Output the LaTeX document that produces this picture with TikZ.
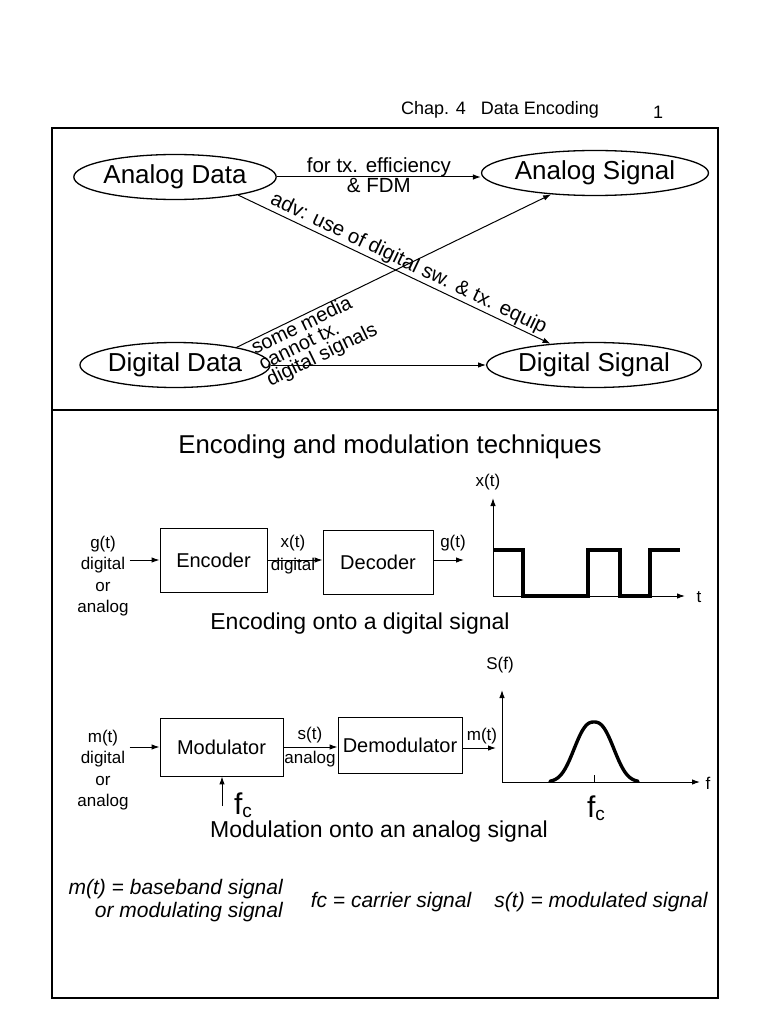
\documentclass[tikz,border=0pt]{standalone}
\usepackage{fontspec}
\setmainfont{Liberation Sans}
\usetikzlibrary{arrows.meta,shapes.geometric,positioning}

\begin{document}
\begin{tikzpicture}[x=1pt,y=-1pt,
	arr/.style={-{Latex[length=8pt,width=5.5pt]},line width=1pt},
	oval/.style={ellipse,draw,line width=1.3pt,minimum width=186pt,minimum height=45pt,inner sep=0pt,font=\fontsize{26}{30}\selectfont},
	block/.style={draw,line width=0.9pt,inner sep=0pt,font=\fontsize{20}{24}\selectfont},
	lbl/.style={font=\fontsize{17}{21.5}\selectfont,align=center,inner sep=1pt},
	note/.style={font=\fontsize{20.5}{18}\selectfont,inner sep=1pt},
	title/.style={font=\fontsize{23}{28}\selectfont,inner sep=0pt},
	legend/.style={font=\fontsize{21}{23}\selectfont\itshape,inner sep=0pt},
	wave/.style={line width=3.6pt,line join=miter},
	fclbl/.style={inner sep=0pt,font=\fontsize{30}{30}\selectfont}]
	% Page and frames:
	\fill[white] (0,0) rectangle (768,1024);
	\useasboundingbox (0,0) rectangle (768,1024);
	\draw[line width=1.3pt] (52,128) rectangle (718,998);
	\draw[line width=1.3pt] (52,410) -- (718,410);
	\node[font=\fontsize{18}{20}\selectfont] (chap) at (500,110) {Chap. 4\hspace{15pt}Data Encoding};
	\node[font=\fontsize{18}{20}\selectfont] (page) at (658,112) {1};

	% Data and signals:
	\node[oval] (AD) at (175,177) {Analog Data};
	\node[oval] (AS) at (595,173) {Analog Signal};
	\node[oval] (DD) at (175,365) {Digital Data};
	\node[oval] (DS) at (594,365) {Digital Signal};
	\draw[arr] (AD.east) -- (AS.west |- AD.east)
		node[note,midway,above=-1pt] {for tx. efficiency}
		node[note,midway,below=0pt] {\& FDM};
	\draw[arr] (AD.-16) -- (DS.154)
		node[note,sloped,above,pos=0.53] {adv: use of digital sw. \& tx. equip};
	\draw[arr] (DD.16) -- (AS.206)
		node[note,sloped,below=-1pt,pos=0.21,align=left,font=\fontsize{20}{17.5}\selectfont] {some media\\cannot tx.\\digital signals};
	\draw[arr] (DD.east) -- (DS.west);

	% Encoding onto a digital signal:
	\node[title,font=\fontsize{25.8}{28}\selectfont] (head) at (390,447) {Encoding and modulation techniques};
	\node[lbl] (gin) at (103,576) {g(t)\\digital\\or\\analog};
	\node[block,minimum width=107pt,minimum height=64pt] (enc) at (213.5,560) {Encoder};
	\node[block,minimum width=110pt,minimum height=64pt] (dec) at (378,562) {Decoder};
	\coordinate (gout) at (464,560);
	\draw[arr] (gin.east |- enc.west) -- (enc.west);
	\draw[arr] (enc.east) -- (dec.west |- enc.east);
	\draw[arr] (dec.east |- gout) -- (gout);
	\node[lbl] (xt) at (293,543) {x(t)};
	\node[lbl] (xdig) at (293,566) {digital};
	\node[lbl] (gt) at (453,543) {g(t)};
	\coordinate (o1) at (493,596);
	\draw[arr] (o1) -- ++(0,-98);
	\draw[arr] (o1) -- ++(192,0);
	\node[lbl] (xax) at (488,482) {x(t)};
	\node[lbl] (tax) at (699,597) {t};
	\draw[wave] (493,550) -| (523,596) -| (588,550) -| (620,596) -| (650,550) -- (680,550);
	\node[title] (enctitle) at (360,624) {Encoding onto a digital signal};

	% Modulation onto an analog signal:
	\node[lbl] (min) at (103,770) {m(t)\\digital\\or\\analog};
	\node[block,minimum width=123pt,minimum height=58pt] (mod) at (221.5,747) {Modulator};
	\node[block,minimum width=124pt,minimum height=56pt] (demod) at (400,745) {Demodulator};
	\coordinate (mout) at (496,748);
	\coordinate (fcin) at (222,806);
	\draw[arr] (min.east |- mod.west) -- (mod.west);
	\draw[arr] (mod.east) -- (demod.west |- mod.east);
	\draw[arr] (demod.east |- mout) -- (mout);
	\draw[arr] (fcin) -- (fcin |- mod.south);
	\node[lbl] (st) at (310,735) {s(t)};
	\node[lbl] (sana) at (310,759) {analog};
	\node[lbl] (mt) at (482,736) {m(t)};
	\node[fclbl] (fc1) at (243,805) {f\raisebox{-3pt}{\fontsize{19}{19}\selectfont c}};
	\coordinate (o2) at (502,782);
	\draw[arr] (o2) -- ++(0,-92);
	\draw[arr] (o2) -- ++(198,0);
	\node[lbl] (sax) at (500,665) {S(f)};
	\node[lbl] (fax) at (708,783) {f};
	\draw[wave,line width=3.4pt,line cap=round] plot[domain=-44:44,samples=89,smooth] ({594+\x},{782-60*exp(-1*(abs(\x)/24.5)^2.5)});
	\draw[line width=0.8pt] (594,775) -- (594,782);
	\node[fclbl] (fc2) at (596,808) {f\raisebox{-3pt}{\fontsize{19}{19}\selectfont c}};
	\node[title] (modtitle) at (379,832) {Modulation onto an analog signal};

	% Legend:
	\node[legend,align=right,anchor=east] (mleg) at (283,901) {m(t) = baseband signal\\or modulating signal};
	\node[legend] (fleg) at (391,902) {fc = carrier signal};
	\node[legend] (sleg) at (601,902) {s(t) = modulated signal};
\end{tikzpicture}
\end{document}
